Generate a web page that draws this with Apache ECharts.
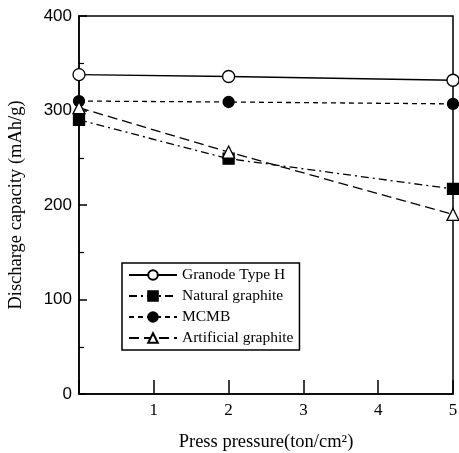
<!DOCTYPE html>
<html><head><meta charset="utf-8">
<script src="https://cdn.jsdelivr.net/npm/echarts@6/dist/echarts.min.js"></script>
<style>html,body{margin:0;padding:0;background:#fff}#c{width:459px;height:453px}</style>
</head><body><div id="c"></div>
<script>
const seriesNames = ['Granode Type H', 'Natural graphite', 'MCMB', 'Artificial graphite'];
const pressure = [0, 2, 5];
const granode = [338, 336, 332];
const natural = [290, 249, 217];
const mcmb = [310, 309, 307];
const artificial = [303, 256, 190];
const xTicks = [1, 2, 3, 4, 5];
const yTicks = [0, 100, 200, 300, 400];

const serif = 'Liberation Serif';
const pair = (ys) => pressure.map((x, i) => [x, ys[i]]);
const chart = echarts.init(document.getElementById('c'));
const mk = (name, data, symbol, fill, dash, size) => ({
  name, type: 'line', data: pair(data), symbol, symbolSize: size,
  itemStyle: {color: fill, borderColor: '#000', borderWidth: 1.3},
  lineStyle: {color: '#000', width: 1.3, type: dash},
  z: 5
});
chart.setOption({
  animation: false,
  backgroundColor: '#fff',
  grid: {left: 79, right: 6, top: 16, bottom: 59, containLabel: false, outerBoundsMode: 'none',
    show: true, borderColor: '#000', borderWidth: 1.5, backgroundColor: 'transparent'},
  xAxis: {
    type: 'value', min: 0, max: 5, interval: 1,
    name: 'Press pressure(ton/cm²)', nameLocation: 'middle', nameGap: 39,
    nameTextStyle: {fontFamily: serif, fontSize: 18.5, color: '#000'},
    axisLine: {lineStyle: {color: '#000', width: 1.5}},
    axisTick: {inside: true, length: 14, lineStyle: {color: '#000', width: 1.5}},
    axisLabel: {fontFamily: serif, fontSize: 17, color: '#000', margin: 8,
      formatter: v => xTicks.includes(v) ? String(v) : ''},
    splitLine: {show: false}
  },
  yAxis: {
    type: 'value', min: 0, max: 400, interval: 100,
    name: 'Discharge capacity (mAh/g)', nameLocation: 'middle', nameGap: 53,
    nameTextStyle: {fontFamily: serif, fontSize: 18.5, color: '#000'},
    axisLine: {lineStyle: {color: '#000', width: 1.5}},
    axisTick: {inside: true, length: 8, lineStyle: {color: '#000', width: 1.5}},
    minorTick: {show: true, splitNumber: 2, length: 5, lineStyle: {color: '#000', width: 1.2}},
    axisLabel: {fontFamily: 'Liberation Sans', fontSize: 17, color: '#000', margin: 7,
      formatter: v => yTicks.includes(v) ? String(v) : ''},
    splitLine: {show: false}
  },
  legend: {
    left: 122, top: 263, orient: 'vertical', itemGap: 5, itemWidth: 48, itemHeight: 12,
    padding: [4, 6, 4, 6], backgroundColor: '#fff', borderColor: '#000', borderWidth: 1.5,
    textStyle: {fontFamily: serif, fontSize: 15.5, color: '#000'},
    data: seriesNames
  },
  series: [
    mk(seriesNames[0], granode, 'circle', '#fff', 'solid', 12),
    mk(seriesNames[1], natural, 'rect', '#000', [8, 4, 2, 4], 11),
    mk(seriesNames[2], mcmb, 'circle', '#000', [5, 4], 11),
    mk(seriesNames[3], artificial, 'triangle', '#fff', [10, 5], 12)
  ]
});
</script></body></html>
